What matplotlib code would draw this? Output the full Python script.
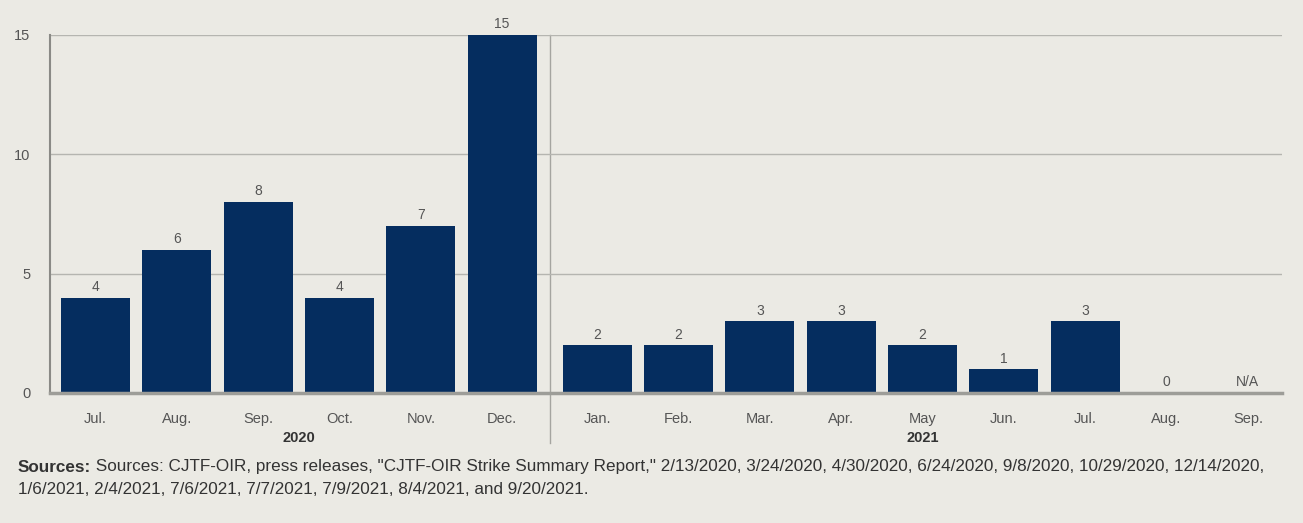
import matplotlib.pyplot as plt
import matplotlib.transforms as mtransforms
import numpy as np

# data
months_2020 = ["Jul.", "Aug.", "Sep.", "Oct.", "Nov.", "Dec."]
months_2021 = ["Jan.", "Feb.", "Mar.", "Apr.", "May", "Jun.", "Jul.", "Aug.", "Sep."]
strikes_2020 = [4, 6, 8, 4, 7, 15]
strikes_2021 = [2, 2, 3, 3, 2, 1, 3, 0, np.nan]  # Sep. 2021 = N/A
years = ["2020", "2021"]

bg = "#ebeae4"
navy = "#052d5f"
grey = "#555555"

plt.rcParams['font.family'] = ['Liberation Sans', 'DejaVu Sans']

fig = plt.figure(figsize=(13.03, 5.23), dpi=100, facecolor=bg)
ax = fig.add_axes([50/1303, 1-393/523, (1282-50)/1303, (393-35)/523], facecolor=bg)

gap = 0.17  # extra space between the two years
x20 = np.arange(len(months_2020))
x21 = np.arange(len(months_2021)) + len(months_2020) + gap
xs = np.concatenate([x20, x21])
vals = np.array(strikes_2020 + strikes_2021, dtype=float)
labels = months_2020 + months_2021

ax.bar(xs, np.nan_to_num(vals), width=0.85, color=navy, zorder=3)
for x, v in zip(xs, vals):
    txt = "N/A" if np.isnan(v) else str(int(v))
    h = 0 if np.isnan(v) else v
    ax.text(x, h + 0.15, txt, ha='center', va='bottom', fontsize=10, color=grey)

ax.set_xlim(-0.56, xs[-1] + 0.42)
ax.set_ylim(0, 15)
ax.set_yticks([0, 5, 10, 15])
ax.set_xticks(xs)
ax.set_xticklabels(labels, fontsize=10.5, color=grey)
ax.tick_params(axis='x', length=0, pad=14)
ax.tick_params(axis='y', length=0, pad=14, labelsize=10.5, labelcolor=grey)
ax.grid(axis='y', color='#b5b5b0', lw=1, zorder=0)

for s in ['top', 'right']:
    ax.spines[s].set_visible(False)
ax.spines['left'].set_color('#8a8a86')
ax.spines['left'].set_linewidth(1.5)
ax.spines['bottom'].set_color('#9d9d98')
ax.spines['bottom'].set_linewidth(2.5)
ax.spines['bottom'].set_zorder(4)

trans = mtransforms.blended_transform_factory(ax.transData, ax.transAxes)

# separator between years
sep_x = (x20[-1] + x21[0]) / 2
ax.plot([sep_x, sep_x], [1, -0.14], color='#a5a5a0', lw=1, clip_on=False,
        zorder=1, transform=trans)

# year labels
ax.text(np.mean(x20), -0.126, years[0], ha='center', va='center', fontsize=10.5,
        fontweight='bold', color='#333333', transform=trans)
ax.text(np.mean(x21), -0.126, years[1], ha='center', va='center', fontsize=10.5,
        fontweight='bold', color='#333333', transform=trans)

# sources note
fs = 12.3
t = fig.text(18/1303, 1-467/523, "Sources:", fontsize=fs, fontweight='bold',
             color='#333333', va='center')
fig.canvas.draw()
ax.annotate(' Sources: CJTF-OIR, press releases, "CJTF-OIR Strike Summary Report," 2/13/2020, 3/24/2020, '
            '4/30/2020, 6/24/2020, 9/8/2020, 10/29/2020, 12/14/2020,',
            xy=(1, 0.5), xycoords=t, va='center', ha='left', fontsize=fs, color='#333333',
            annotation_clip=False)
fig.text(18/1303, 1-490/523, "1/6/2021, 2/4/2021, 7/6/2021, 7/7/2021, 7/9/2021, 8/4/2021, and 9/20/2021.",
         fontsize=fs, color='#333333', va='center')

plt.savefig("out.png", dpi=100, facecolor=bg)
